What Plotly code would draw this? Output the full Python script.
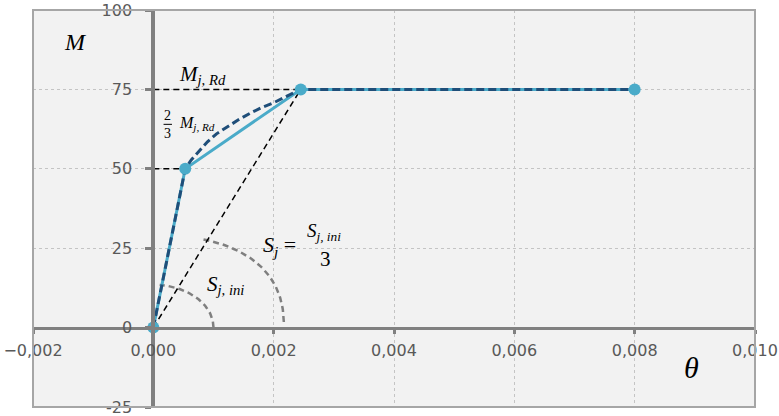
import numpy as np
import plotly.graph_objects as go

# Moment-rotation characteristic of the joint
theta_pts = [0.0, 0.00053, 0.00245, 0.008]
moment_pts = [0.0, 50.0, 75.0, 75.0]

# Non-linear (curved) characteristic
theta_curve = [0.0, 0.00053, 0.00063, 0.00073, 0.0009, 0.00105, 0.00123, 0.00142,
               0.00162, 0.0018, 0.002, 0.00217, 0.00233, 0.00245, 0.008]
moment_curve = [0.0, 50.0, 52.8, 55.0, 58.5, 61.0, 63.2, 65.5,
                67.6, 69.3, 70.8, 72.4, 73.9, 75.0, 75.0]

# Reference levels
M_jRd = 75.0
M_23 = 50.0

x_ticks = [-0.002, 0.0, 0.002, 0.004, 0.006, 0.008, 0.010]
y_ticks = [-25, 0, 25, 50, 75, 100]
y_tick_text = ["-25", "0", "25", "50", "75", "100"]

LIGHT_BLUE = "#4aabc9"
DARK_BLUE = "#1f4e79"
ARC_GREY = "#7f7f7f"
MATH_FONT = "Liberation Serif"

fig = go.Figure()

# Angle-marking arcs (superellipse segments around the origin)
def arc(a, b, n, t0, t1):
    t = np.radians(np.linspace(t0, t1, 60))
    x = a * np.cos(t) ** (2.0 / n)
    y = b * np.sin(t) ** (2.0 / n)
    return x, y

for a, b, n, t0, t1 in [(0.001, 13.5, 2.0, 0.0, 84.0),
                        (0.00217, 29.0, 2.4, 2.0, 71.5)]:
    ax_, ay_ = arc(a, b, n, t0, t1)
    fig.add_trace(go.Scatter(x=ax_, y=ay_, mode="lines", hoverinfo="skip",
                             line=dict(color=ARC_GREY, width=2.5, dash="6px,4px")))

# Construction lines: Mj,Rd level, 2/3 Mj,Rd level and secant stiffness
fig.add_trace(go.Scatter(x=[0.0, theta_pts[2]], y=[M_jRd, M_jRd], mode="lines",
                         hoverinfo="skip", line=dict(color="black", width=1.5, dash="6px,4px")))
fig.add_trace(go.Scatter(x=[0.0, theta_pts[1]], y=[M_23, M_23], mode="lines",
                         hoverinfo="skip", line=dict(color="black", width=1.5, dash="6px,4px")))
fig.add_trace(go.Scatter(x=[0.0, theta_pts[2]], y=[0.0, M_jRd], mode="lines",
                         hoverinfo="skip", line=dict(color="black", width=1.5, dash="6px,4px")))

# Multilinear characteristic
fig.add_trace(go.Scatter(x=theta_pts, y=moment_pts, mode="lines",
                         line=dict(color=LIGHT_BLUE, width=3)))
# Curved characteristic
fig.add_trace(go.Scatter(x=theta_curve, y=moment_curve, mode="lines",
                         line=dict(color=DARK_BLUE, width=3, dash="8px,4px")))
# Characteristic points
fig.add_trace(go.Scatter(x=theta_pts, y=moment_pts, mode="markers",
                         marker=dict(color=LIGHT_BLUE, size=12)))

def label(text, x, y, size, xanchor="center"):
    fig.add_annotation(x=x, y=y, text=text, showarrow=False, xanchor=xanchor,
                       yanchor="middle",
                       font=dict(family=MATH_FONT, size=size, color="black"))

label("<i>M</i>", -0.0013, 90.0, 24)
label("<i>θ</i>", 0.00895, -12.6, 30)
label("<i>M</i><sub><i>j, Rd</i></sub>", 0.00082, 79.4, 21)
label("2", 0.00024, 66.7, 14)
label("3", 0.00024, 61.0, 14)
label("<i>M</i><sub><i>j, Rd</i></sub>", 0.00040, 64.3, 16, xanchor="left")
label("<i>S</i><sub><i>j, ini</i></sub>", 0.0012, 13.5, 21)
label("<i>S</i><sub><i>j</i></sub> =", 0.0021, 25.8, 22)
label("<i>S</i><sub><i>j, ini</i></sub>", 0.00283, 30.0, 19)
label("3", 0.00286, 21.6, 21)

# fraction bar of 2/3
fig.add_shape(type="line", x0=0.00017, x1=0.00031, y0=64.0, y1=64.0,
              line=dict(color="black", width=1))

# plot-area frame
fig.add_shape(type="rect", xref="paper", yref="paper", x0=0, x1=1, y0=0, y1=1,
              line=dict(color="#a6a6a6", width=2), layer="above")

tick_font = dict(family="DejaVu Sans", size=16, color="#595959")

fig.update_layout(
    width=779, height=416,
    margin=dict(l=33, r=24, t=10, b=9),
    paper_bgcolor="white", plot_bgcolor="#f2f2f2",
    showlegend=False,
    separators=", ",
    xaxis=dict(range=[-0.002, 0.010], tickvals=x_ticks, tickformat=".3f",
               anchor="free", position=0.2, automargin=False,
               showline=True, linecolor="#808080", linewidth=3,
               ticks="outside", ticklen=4, tickwidth=3, tickcolor="#808080",
               showgrid=True, gridcolor="#c4c4c4", griddash="3px,3px", gridwidth=1,
               zeroline=False, tickfont=tick_font, ticklabelstandoff=3,
               ticklabeloverflow="allow"),
    yaxis=dict(range=[-25, 100], tickvals=y_ticks, ticktext=y_tick_text,
               anchor="free", position=1 / 6, automargin=False,
               showline=True, linecolor="#808080", linewidth=4,
               ticks="outside", ticklen=6, tickwidth=3, tickcolor="#808080",
               showgrid=True, gridcolor="#c4c4c4", griddash="3px,3px", gridwidth=1,
               zeroline=False, tickfont=tick_font, ticklabelstandoff=10,
               ticklabeloverflow="allow"),
)

fig.write_html("out.html")
